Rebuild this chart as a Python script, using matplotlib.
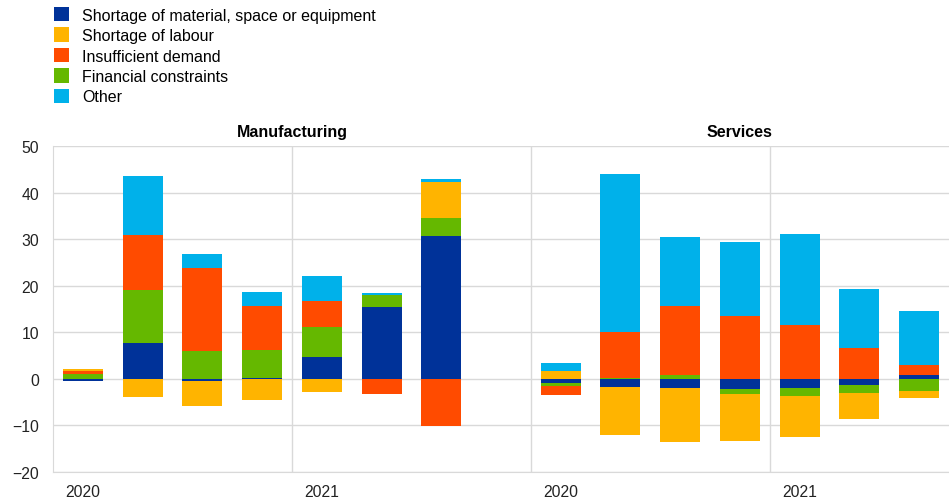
import matplotlib
matplotlib.use("Agg")
import matplotlib.pyplot as plt
import numpy as np
from matplotlib.patches import Patch

plt.rcParams['font.family'] = ['Liberation Sans', 'DejaVu Sans']

series_names = ["Shortage of material, space or equipment", "Shortage of labour",
                "Insufficient demand", "Financial constraints", "Other"]
colors = {"Shortage of material, space or equipment": "#003299",
          "Shortage of labour": "#FFB400",
          "Insufficient demand": "#FF4B00",
          "Financial constraints": "#65B800",
          "Other": "#00B1EA"}

# Manufacturing (7 quarters: 2020 Q1 .. 2021 Q3)
manu_material = [-0.4, 7.6, -0.5, 0.2, 4.8, 15.5, 30.7]
manu_labour = [0.5, -3.8, -5.4, -4.6, -2.9, 0.0, 7.6]
manu_demand = [0.65, 11.8, 17.9, 9.5, 5.5, -3.2, -10.1]
manu_financial = [1.0, 11.5, 5.9, 6.0, 6.4, 2.6, 3.9]
manu_other = [-0.15, 12.6, 3.1, 2.9, 5.4, 0.35, 0.7]

# Services
serv_material = [-0.85, -1.7, -1.9, -2.1, -1.9, -1.3, 0.9]
serv_labour = [1.6, -10.4, -11.6, -10.1, -8.9, -5.6, -1.6]
serv_demand = [-2.0, 9.8, 14.9, 13.5, 11.6, 6.6, 2.1]
serv_financial = [-0.65, 0.2, 0.85, -1.1, -1.7, -1.7, -2.6]
serv_other = [1.7, 34.0, 14.7, 15.9, 19.4, 12.7, 11.5]

year_labels = ["2020", "2021", "2020", "2021"]
panel_titles = ["Manufacturing", "Services"]

data = {
    "Shortage of material, space or equipment": manu_material + serv_material,
    "Shortage of labour": manu_labour + serv_labour,
    "Insufficient demand": manu_demand + serv_demand,
    "Financial constraints": manu_financial + serv_financial,
    "Other": manu_other + serv_other,
}
x = np.array(list(range(7)) + list(range(8, 15)), dtype=float)

stack_order = ["Shortage of material, space or equipment", "Financial constraints",
               "Insufficient demand", "Shortage of labour", "Other"]

fig = plt.figure(figsize=(9.49, 5.02), dpi=100)
ax = fig.add_axes([53/949, 29/502, (949-53)/949, (473-147)/502])

pos_bottom = np.zeros(len(x))
neg_bottom = np.zeros(len(x))
for name in stack_order:
    vals = np.array(data[name])
    bottoms = np.where(vals >= 0, pos_bottom, neg_bottom)
    ax.bar(x, vals, width=0.67, bottom=bottoms, color=colors[name], linewidth=0, zorder=3)
    pos_bottom += np.where(vals >= 0, vals, 0)
    neg_bottom += np.where(vals < 0, vals, 0)

ax.set_xlim(-0.5, 14.5)
ax.set_ylim(-20, 50)
ax.set_yticks(range(-20, 51, 10))
ax.grid(axis='y', color='#D9D9D9', linewidth=1, zorder=0)
for xv in [3.5, 7.5, 11.5]:
    ax.axvline(xv, color='#D9D9D9', linewidth=1, zorder=0)
for s in ['top', 'right']:
    ax.spines[s].set_visible(False)
ax.spines['left'].set_color('#D9D9D9')
ax.spines['bottom'].set_color('#D9D9D9')
ax.tick_params(axis='y', length=0, labelsize=11.3, pad=10, colors='#222222')
ax.set_xticks([0, 4, 8, 12])
ax.set_xticklabels(year_labels)
ax.tick_params(axis='x', length=0, labelsize=11.3, pad=9, colors='#222222')

ax.text(3.5, 1.02, panel_titles[0], transform=ax.get_xaxis_transform(), ha='center',
        va='bottom', fontsize=11.5, fontweight='bold')
ax.text(11.0, 1.02, panel_titles[1], transform=ax.get_xaxis_transform(), ha='center',
        va='bottom', fontsize=11.5, fontweight='bold')

handles = [Patch(facecolor=colors[n], edgecolor='none') for n in series_names]
fig.legend(handles, series_names, loc='upper left', bbox_to_anchor=(44/949, 1.003),
           frameon=False, fontsize=11.5, handlelength=0.95, handleheight=1.0,
           labelspacing=0.3, handletextpad=0.85, borderaxespad=0.2)

fig.savefig("out.png", dpi=100)
